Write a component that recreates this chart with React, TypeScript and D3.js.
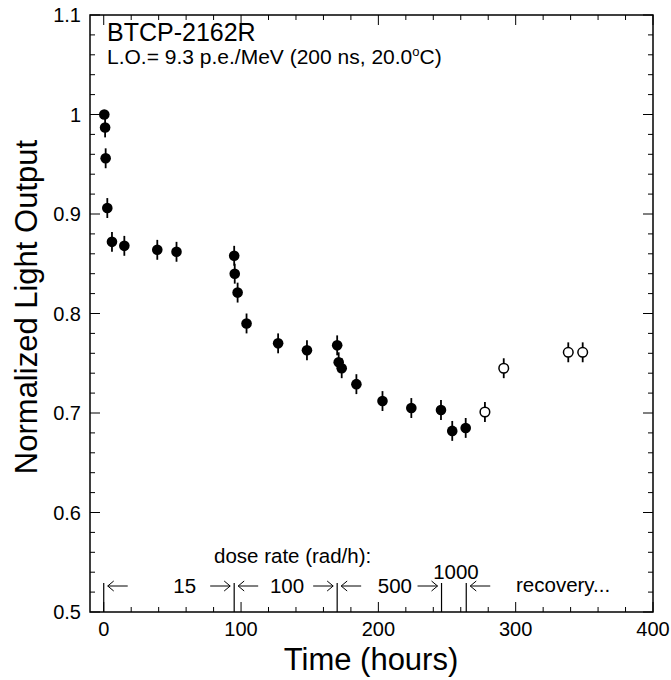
import React from "react";
import * as d3 from "d3";

const W = 671;
const H = 680;

// Irradiation data (filled) and recovery data (open)
const irrTime = [0.4, 1.0, 1.4, 2.6, 6, 15, 39, 53, 95, 95.4, 97.5, 104, 127, 148, 170, 171.1, 173.3, 184, 203, 224, 245.6, 253.8, 263.6];
const irrLO = [1.0, 0.987, 0.956, 0.906, 0.872, 0.868, 0.864, 0.862, 0.858, 0.840, 0.821, 0.790, 0.770, 0.763, 0.768, 0.751, 0.745, 0.729, 0.712, 0.705, 0.703, 0.682, 0.685];
const irrErr = [0, 0.01, 0.01, 0.01, 0.01, 0.01, 0.01, 0.01, 0.01, 0.01, 0.01, 0.01, 0.01, 0.01, 0.01, 0.01, 0.01, 0.01, 0.01, 0.01, 0.01, 0.01, 0.01];

const recTime = [277.6, 291.3, 338.3, 348.8];
const recLO = [0.701, 0.745, 0.761, 0.761];
const recErr = [0.01, 0.01, 0.01, 0.01];

const doseBoundaries = [0, 95, 170, 246, 264];
const doseLabels = ["15", "100", "500", "1000"];
const doseLabelTimes = [59, 133.5, 212, 256.5];

const xTicks = [0, 100, 200, 300, 400];
const yTicks = [0.5, 0.6, 0.7, 0.8, 0.9, 1.0, 1.1];
const yTickLabels = ["0.5", "0.6", "0.7", "0.8", "0.9", "1", "1.1"];

const FONT = "'Liberation Sans', Arial, Helvetica, sans-serif";

export default function App() {
  const left = 90, right = 653, top = 15, bottom = 612;
  const x = d3.scaleLinear().domain([-10, 400]).range([left, right]);
  const y = d3.scaleLinear().domain([0.5, 1.1]).range([bottom, top]);

  const xMinor = d3.range(0, 401, 20).filter((v) => v % 100 !== 0);
  const yMinor = d3.range(0.5, 1.1001, 0.02).filter((v) => Math.abs(Math.round(v * 10) - v * 10) > 1e-6);

  const MAJ = 10, MIN = 5;
  const arrowY = 586;
  const arrowLen = 20;
  const gap = 4;

  const arrow = (x1: number, x2: number, key: string) => {
    const dir = x2 > x1 ? 1 : -1;
    return (
      <g key={key} stroke="#000" strokeWidth={1} fill="none">
        <line x1={x1} y1={arrowY} x2={x2} y2={arrowY} />
        <polyline points={`${x2 - dir * 6},${arrowY - 5} ${x2},${arrowY} ${x2 - dir * 6},${arrowY + 5}`} />
      </g>
    );
  };

  const bx = doseBoundaries.map((b) => x(b));
  const arrows: React.ReactNode[] = [];
  arrows.push(arrow(bx[0] + gap + arrowLen, bx[0] + gap, "a0"));
  arrows.push(arrow(bx[1] - gap - arrowLen, bx[1] - gap, "a1"));
  arrows.push(arrow(bx[1] + gap + arrowLen, bx[1] + gap, "a2"));
  arrows.push(arrow(bx[2] - gap - arrowLen, bx[2] - gap, "a3"));
  arrows.push(arrow(bx[2] + gap + arrowLen, bx[2] + gap, "a4"));
  arrows.push(arrow(bx[3] - gap - arrowLen, bx[3] - gap, "a5"));
  arrows.push(arrow(bx[4] + gap + arrowLen, bx[4] + gap, "a6"));

  return (
    <svg width={W} height={H} style={{ position: "absolute", left: 0, top: 0, background: "#fff" }} fontFamily={FONT}>
      <rect x={0} y={0} width={W} height={H} fill="#fff" />
      <rect x={left} y={top} width={right - left} height={bottom - top} fill="none" stroke="#000" strokeWidth={1.5} />

      <g stroke="#000" strokeWidth={1}>
        {xTicks.map((t) => (
          <g key={"xt" + t}>
            <line x1={x(t)} x2={x(t)} y1={bottom} y2={bottom - MAJ} />
            <line x1={x(t)} x2={x(t)} y1={top} y2={top + MAJ} />
          </g>
        ))}
        {xMinor.map((t) => (
          <g key={"xm" + t}>
            <line x1={x(t)} x2={x(t)} y1={bottom} y2={bottom - MIN} />
            <line x1={x(t)} x2={x(t)} y1={top} y2={top + MIN} />
          </g>
        ))}
        {yTicks.map((t) => (
          <g key={"yt" + t}>
            <line x1={left} x2={left + MAJ} y1={y(t)} y2={y(t)} />
            <line x1={right} x2={right - MAJ} y1={y(t)} y2={y(t)} />
          </g>
        ))}
        {yMinor.map((t) => (
          <g key={"ym" + t}>
            <line x1={left} x2={left + MIN} y1={y(t)} y2={y(t)} />
            <line x1={right} x2={right - MIN} y1={y(t)} y2={y(t)} />
          </g>
        ))}
      </g>

      {xTicks.map((t) => (
        <text key={"xl" + t} x={x(t)} y={636} textAnchor="middle" fontSize={20}>
          {t}
        </text>
      ))}
      {yTicks.map((t, i) => (
        <text key={"yl" + t} x={81} y={y(t) + 7} textAnchor="end" fontSize={20}>
          {yTickLabels[i]}
        </text>
      ))}

      <text x={371} y={670} textAnchor="middle" fontSize={31}>
        Time (hours)
      </text>
      <text transform={`translate(37,307) rotate(-90)`} textAnchor="middle" fontSize={31}>
        Normalized Light Output
      </text>

      <text x={107} y={41} fontSize={25}>
        BTCP-2162R
      </text>
      <text x={107} y={64} fontSize={21}>
        L.O.= 9.3 p.e./MeV (200 ns, 20.0<tspan dy={-8} fontSize={13}>o</tspan>
        <tspan dy={8}>C)</tspan>
      </text>

      <g stroke="#000" strokeWidth={1.2}>
        {doseBoundaries.map((b, i) => (
          <line key={"db" + i} x1={x(b)} x2={x(b)} y1={bottom} y2={bottom - 29} />
        ))}
      </g>
      {arrows}
      <text x={214} y={563} fontSize={20.5}>
        dose rate (rad/h):
      </text>
      {doseLabels.map((l, i) => (
        <text key={"dl" + i} x={x(doseLabelTimes[i])} y={i === 3 ? 579 : 593} textAnchor="middle" fontSize={20.5}>
          {l}
        </text>
      ))}
      <text x={516} y={592} fontSize={20.5}>
        recovery...
      </text>

      <g>
        {irrTime.map((t, i) => (
          <g key={"irr" + i}>
            {irrErr[i] > 0 && (
              <line x1={x(t)} x2={x(t)} y1={y(irrLO[i] - irrErr[i])} y2={y(irrLO[i] + irrErr[i])} stroke="#000" strokeWidth={1.8} />
            )}
            <circle cx={x(t)} cy={y(irrLO[i])} r={5.3} fill="#000" />
          </g>
        ))}
        {recTime.map((t, i) => (
          <g key={"rec" + i}>
            <line x1={x(t)} x2={x(t)} y1={y(recLO[i] - recErr[i])} y2={y(recLO[i] + recErr[i])} stroke="#000" strokeWidth={1.8} />
            <circle cx={x(t)} cy={y(recLO[i])} r={4.8} fill="#fff" stroke="#000" strokeWidth={1.5} />
          </g>
        ))}
      </g>
    </svg>
  );
}
